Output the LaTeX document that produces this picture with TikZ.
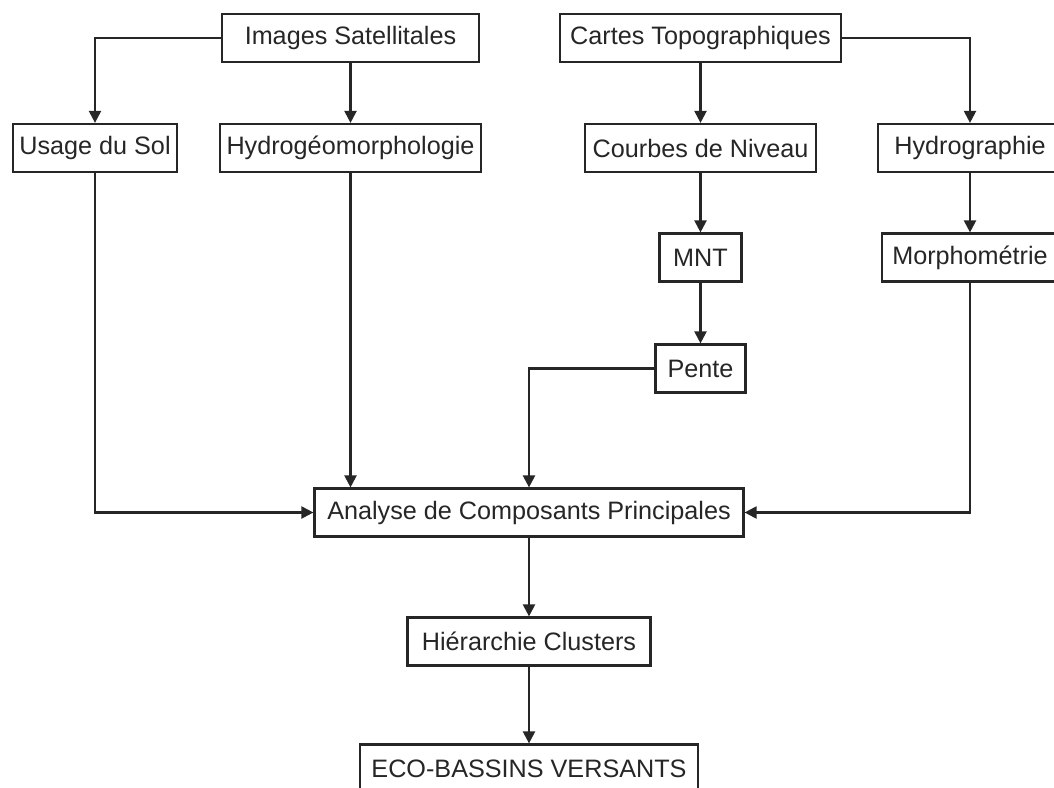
\documentclass[tikz,border=0pt]{standalone}
\usepackage{fontspec}
\setmainfont{Liberation Sans}
\usetikzlibrary{arrows.meta}
\begin{document}
\begin{tikzpicture}[x=0.5pt,y=-0.5pt,
  box/.style={draw=black!85, line width=1.1pt, inner sep=0pt, minimum height=24pt,
    font=\fontsize{12.6}{15}\selectfont, text=black!85},
  arr/.style={draw=black!85, line width=1.1pt, -{Triangle[length=6pt,width=6pt]}}]
\useasboundingbox[fill=white] (0,0) rectangle (1054,787);
\node[box, minimum width=128.5pt] (img) at (350.5,38) {Images Satellitales};
\node[box, minimum width=140.5pt] (cartes) at (700.5,38) {Cartes Topographiques};
\node[box, minimum width=82pt] (usage) at (95,148) {Usage du Sol};
\node[box, minimum width=130.5pt] (hydro) at (350.5,148) {Hydrogéomorphologie};
\node[box, minimum width=115.5pt] (courbes) at (700.5,148) {Courbes de Niveau};
\node[box, minimum width=92pt] (hydrog) at (970,148) {Hydrographie};
\node[box, minimum width=41pt] (mnt) at (700.5,257.5) {MNT};
\node[box, minimum width=88pt] (morpho) at (970,257.5) {Morphométrie};
\node[box, minimum width=45pt] (pente) at (700.5,368.5) {Pente};
\node[box, minimum width=214.5pt] (acp) at (529,512.5) {Analyse de Composants Principales};
\node[box, minimum width=121.5pt] (hier) at (529,641.5) {Hiérarchie Clusters};
\node[box, minimum width=169pt] (eco) at (529,768.5) {ECO-BASSINS VERSANTS};
\draw[arr] (img.west) -| (usage.north);
\draw[arr] (img.south) -- (hydro.north);
\draw[arr] (cartes.south) -- (courbes.north);
\draw[arr] (cartes.east) -| (hydrog.north);
\draw[arr] (courbes.south) -- (mnt.north);
\draw[arr] (mnt.south) -- (pente.north);
\draw[arr] (hydrog.south) -- (morpho.north);
\draw[arr] (pente.west) -| (acp.north);
\draw[arr] (hydro.south) -- (hydro.south |- acp.north);
\draw[arr] (usage.south) |- (acp.west);
\draw[arr] (morpho.south) |- (acp.east);
\draw[arr] (acp.south) -- (hier.north);
\draw[arr] (hier.south) -- (eco.north);
\end{tikzpicture}
\end{document}
